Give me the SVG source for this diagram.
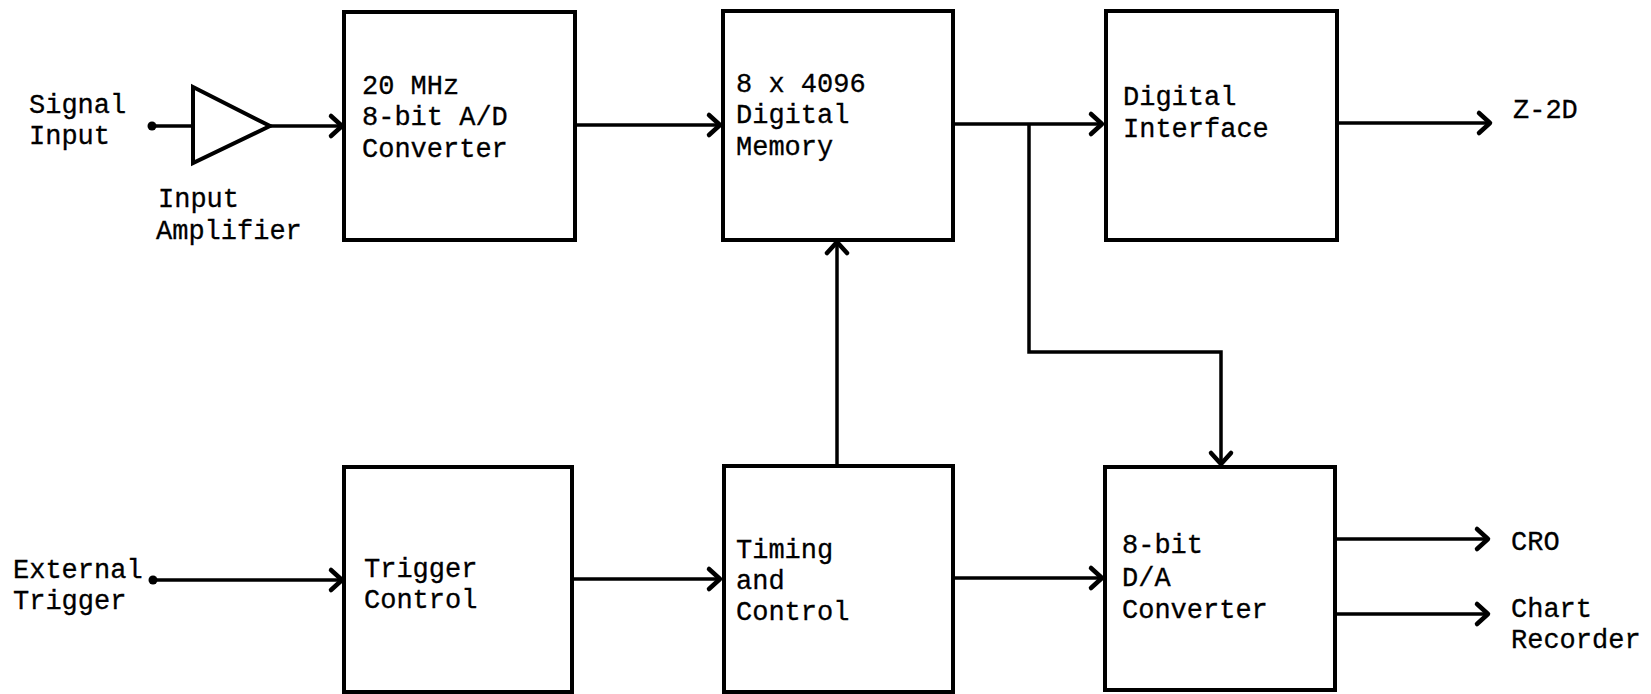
<svg xmlns="http://www.w3.org/2000/svg" width="1651" height="694" viewBox="0 0 1651 694">
  <style>
    .box { fill: #fff; stroke: #000; stroke-width: 4; stroke-linejoin: miter; }
    .wire { fill: none; stroke: #000; stroke-width: 3.5; stroke-linejoin: miter; }
    .lbl { font-family: "Liberation Mono", "Courier New", monospace; font-size: 27px; fill: #000; stroke: #000; stroke-width: 0.3; }
  </style>
  <defs>
    <marker id="chev" markerUnits="userSpaceOnUse" viewBox="-15 -15 30 30" markerWidth="30" markerHeight="30" refX="0" refY="0" orient="auto">
      <path d="M-11,-10 L0,0 L-11,10" fill="none" stroke="#000" stroke-width="4.5" stroke-linecap="round" stroke-linejoin="round"/>
    </marker>
  </defs>

  <rect width="1651" height="694" fill="#fff"/>

  <!-- signal lines -->
  <g id="connectors">
    <line class="wire" x1="151" y1="126" x2="193" y2="126"/>
    <line class="wire" x1="270" y1="126" x2="342" y2="126" marker-end="url(#chev)"/>
    <line class="wire" x1="576" y1="125" x2="720" y2="125" marker-end="url(#chev)"/>
    <line class="wire" x1="954" y1="124" x2="1102" y2="124" marker-end="url(#chev)"/>
    <polyline class="wire" points="1029,124 1029,352 1221,352 1221,464" marker-end="url(#chev)"/>
    <line class="wire" x1="1337" y1="123" x2="1490" y2="123" marker-end="url(#chev)"/>
    <line class="wire" x1="837" y1="466" x2="837" y2="242" marker-end="url(#chev)"/>
    <line class="wire" x1="152" y1="580" x2="342" y2="580" marker-end="url(#chev)"/>
    <line class="wire" x1="572" y1="579" x2="720" y2="579" marker-end="url(#chev)"/>
    <line class="wire" x1="953" y1="578" x2="1102" y2="578" marker-end="url(#chev)"/>
    <line class="wire" x1="1335" y1="539" x2="1488" y2="539" marker-end="url(#chev)"/>
    <line class="wire" x1="1335" y1="614" x2="1488" y2="614" marker-end="url(#chev)"/>
    <circle cx="152" cy="126" r="4.5" fill="#000"/>
    <circle cx="153" cy="580" r="4.5" fill="#000"/>
  </g>

  <g id="signal-input">
    <text class="lbl" x="29" y="113">Signal</text>
    <text class="lbl" x="29" y="144">Input</text>
  </g>

  <g id="input-amplifier">
    <polygon class="box" points="193,87 270,126 193,163"/>
    <text class="lbl" x="158" y="207">Input</text>
    <text class="lbl" x="156" y="239">Amplifier</text>
  </g>

  <g id="adc">
    <rect class="box" x="344" y="12" width="231" height="228"/>
    <text class="lbl" x="362" y="94">20 MHz</text>
    <text class="lbl" x="362" y="125">8-bit A/D</text>
    <text class="lbl" x="362" y="157">Converter</text>
  </g>

  <g id="memory">
    <rect class="box" x="723" y="11" width="230" height="229"/>
    <text class="lbl" x="736" y="92">8 x 4096</text>
    <text class="lbl" x="736" y="123">Digital</text>
    <text class="lbl" x="736" y="155">Memory</text>
  </g>

  <g id="digital-interface">
    <rect class="box" x="1106" y="11" width="231" height="229"/>
    <text class="lbl" x="1123" y="105">Digital</text>
    <text class="lbl" x="1123" y="137">Interface</text>
  </g>

  <g id="out-z2d">
    <text class="lbl" x="1513" y="118">Z-2D</text>
  </g>

  <g id="external-trigger">
    <text class="lbl" x="13" y="578">External</text>
    <text class="lbl" x="13" y="609">Trigger</text>
  </g>

  <g id="trigger-control">
    <rect class="box" x="344" y="467" width="228" height="225"/>
    <text class="lbl" x="364" y="577">Trigger</text>
    <text class="lbl" x="364" y="608">Control</text>
  </g>

  <g id="timing-control">
    <rect class="box" x="724" y="466" width="229" height="226"/>
    <text class="lbl" x="736" y="558">Timing</text>
    <text class="lbl" x="736" y="589">and</text>
    <text class="lbl" x="736" y="620">Control</text>
  </g>

  <g id="dac">
    <rect class="box" x="1105" y="467" width="230" height="223"/>
    <text class="lbl" x="1122" y="553">8-bit</text>
    <text class="lbl" x="1122" y="586">D/A</text>
    <text class="lbl" x="1122" y="618">Converter</text>
  </g>

  <g id="out-cro">
    <text class="lbl" x="1511" y="550">CRO</text>
  </g>

  <g id="out-chart">
    <text class="lbl" x="1511" y="617">Chart</text>
    <text class="lbl" x="1511" y="648">Recorder</text>
  </g>
</svg>
